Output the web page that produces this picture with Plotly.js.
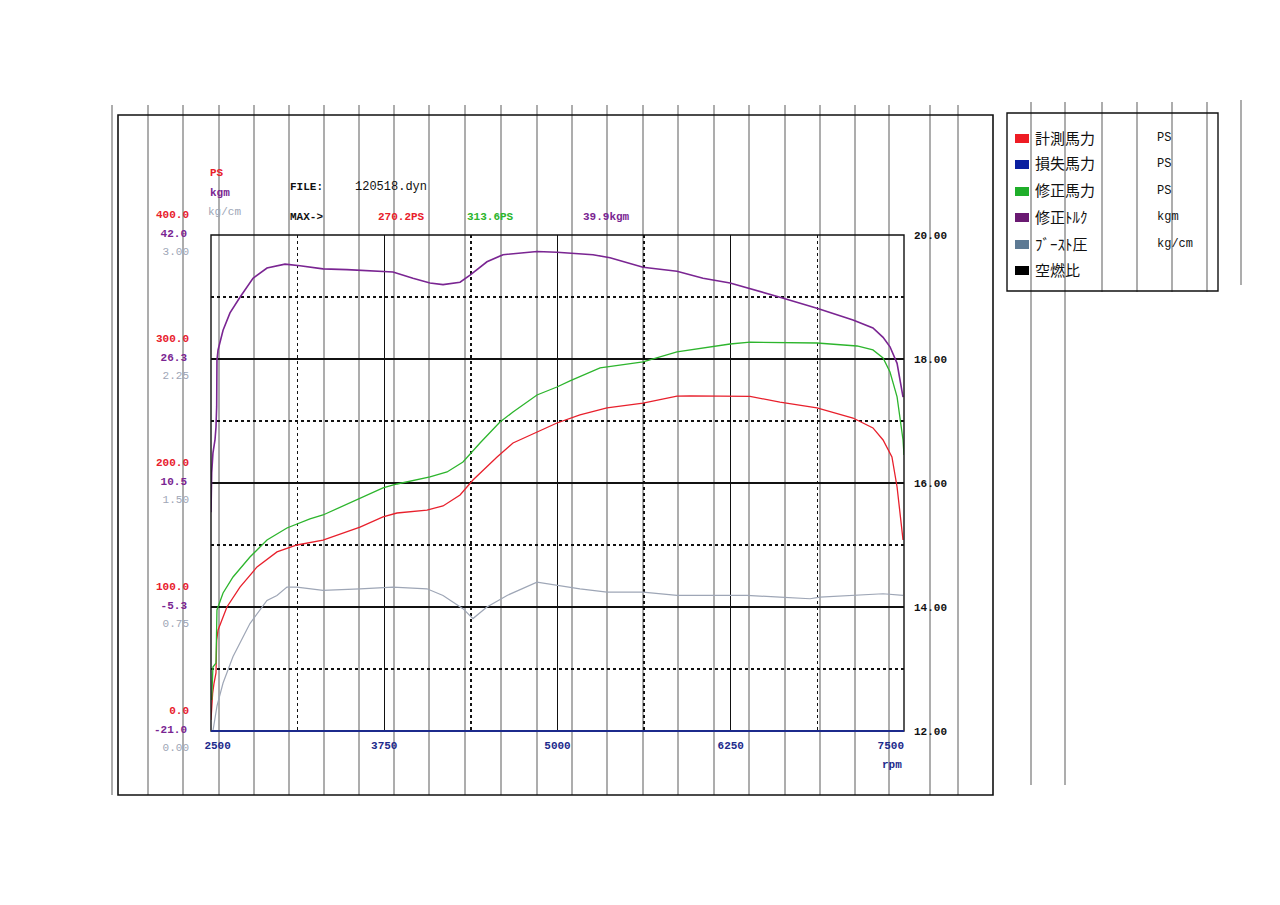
<!DOCTYPE html>
<html><head><meta charset="utf-8">
<script src="https://cdn.plot.ly/plotly-3.0.1.min.js"></script>
<style>html,body{margin:0;padding:0;background:#fff}#chart{width:1280px;height:905px}</style>
</head><body><div id="chart"></div><script>
// ---- data read from the dyno sheet ----
const rpmMeasured = [2500,2512,2522,2536,2541,2551,2615,2709,2832,2976,3120,3308,3575,3741,3842,4058,4174,4297,4390,4564,4679,4852,4996,5162,5357,5617,5862,5956,6245,6389,6605,6872,7132,7276,7349,7413,7450,7493];
const measuredPs  = [8.9,30.6,38.7,46.8,73.4,81.5,100.0,116.1,132.3,144.4,150.0,154.0,164.5,172.6,175.8,178.2,181.5,190.3,202.4,221.0,232.3,241.1,248.4,254.9,260.5,264.5,270.0,270.2,270.1,269.8,265.3,260.5,252.4,244.4,234.7,221.0,196.8,154.0];

const rpmCorrected = [2505,2514,2536,2541,2543,2587,2659,2781,2904,3048,3214,3308,3575,3741,3842,4080,4203,4318,4441,4585,4679,4852,4996,5090,5307,5617,5862,6122,6245,6389,6605,6872,7161,7276,7349,7399,7450,7493,7500];
const correctedPs  = [25.0,51.6,54.8,73.4,97.6,111.3,124.2,140.3,154.0,163.7,171.0,174.2,187.9,196.0,199.2,204.9,208.9,216.9,232.3,249.2,257.3,271.0,277.4,282.3,292.8,297.6,305.7,309.7,312.1,313.6,313.4,312.9,310.5,307.3,300.8,289.5,269.4,234.7,222.6];

const rpmTorque = [2500,2505,2514,2529,2536,2541,2543,2551,2587,2637,2709,2803,2904,3034,3142,3308,3481,3698,3813,3957,4080,4174,4297,4369,4491,4607,4780,4852,4996,5162,5256,5379,5617,5862,6050,6245,6367,6605,6872,7132,7276,7349,7399,7450,7493];
const torqueKgm = [6.8,11.8,14.3,16.0,17.6,20.2,26.1,27.4,29.9,32.1,34.1,36.5,37.8,38.3,38.1,37.7,37.6,37.4,37.3,36.5,35.9,35.7,36.0,36.9,38.6,39.5,39.8,39.9,39.8,39.6,39.5,39.1,37.9,37.4,36.5,35.9,35.3,34.1,32.7,31.2,30.2,29.0,27.8,25.7,21.4];

const rpmBoost = [2514,2529,2543,2587,2659,2781,2904,2976,3048,3120,3308,3575,3813,4058,4174,4318,4390,4491,4636,4852,4996,5162,5357,5617,5862,6122,6367,6605,6822,6894,7132,7349,7493];
const boostKg  = [0.00,0.07,0.15,0.29,0.45,0.65,0.79,0.82,0.87,0.87,0.85,0.86,0.87,0.86,0.82,0.74,0.68,0.75,0.82,0.90,0.88,0.86,0.84,0.84,0.82,0.82,0.82,0.81,0.80,0.81,0.82,0.83,0.82];

const xTicks = [2500,3750,5000,6250,7500];
const xTickText = ['\u00a0\u00a02500','3750','5000','6250','7500\u00a0\u00a0\u00a0\u00a0'];
const kgmTicks = [-21,-5.25,10.5,26.25,42];
const kgmTickText = ['-21.0','-5.3','10.5','26.3','42.0'];
const boostTicks = [0,0.75,1.5,2.25,3];
const legendNames = ['計測馬力','損失馬力','修正馬力','修正ﾄﾙｸ','ﾌﾞｰｽﾄ圧','空燃比'];
const legendUnits = ['PS','PS','PS','kgm','kg/cm',''];
const legendColors = ['#ee1c24','#0a1fa0','#1fae2a','#6a1a72','#5d7a94','#000000'];

// ---- styling ----
const RED='#e8202c', GREEN='#2db52d', PURPLE='#7a2592', GRAY='#9ea6b6', BLUE='#1c2a8c';
const MONO='Liberation Mono, DejaVu Sans Mono, monospace';
const JP='Noto Sans CJK JP, sans-serif';

// plot area in pixels: x 211..904, y 235..731
const L=211, R=904, T=235, B=731;
const px = x => (x-L)/(R-L);
const py = y => (B-y)/(B-T);

const traces = [
  {x:rpmBoost, y:boostKg, yaxis:'y3', mode:'lines', line:{color:GRAY,width:1.2}, showlegend:false, hoverinfo:'skip'},
  {x:rpmMeasured, y:measuredPs, yaxis:'y', mode:'lines', line:{color:RED,width:1.3}, showlegend:false},
  {x:rpmCorrected, y:correctedPs, yaxis:'y', mode:'lines', line:{color:GREEN,width:1.3}, showlegend:false},
  {x:rpmTorque, y:torqueKgm, yaxis:'y2', mode:'lines', line:{color:PURPLE,width:1.6}, showlegend:false},
  {x:[], y:[], yaxis:'y4', showlegend:false}
];

const shapes = [];
// scan lines of the paper sheet
const scanX = [112,148,183,219,254,289,324,359,394,429,465,501,537,572,607,643,678,714,749,785,820,855,889,930,958];
scanX.forEach(x=>shapes.push({type:'line',xref:'paper',yref:'paper',x0:px(x),x1:px(x),y0:py(105),y1:py(795),line:{color:'#6a6a6a',width:1.1},layer:'below'}));
[1031,1065].forEach(x=>shapes.push({type:'line',xref:'paper',yref:'paper',x0:px(x),x1:px(x),y0:py(102),y1:py(785),line:{color:'#6a6a6a',width:1.1},layer:'below'}));
[1102,1137,1172,1207].forEach(x=>shapes.push({type:'line',xref:'paper',yref:'paper',x0:px(x),x1:px(x),y0:py(102),y1:py(292),line:{color:'#6a6a6a',width:1.1},layer:'below'}));
shapes.push({type:'line',xref:'paper',yref:'paper',x0:px(1241),x1:px(1241),y0:py(100),y1:py(285),line:{color:'#6a6a6a',width:1.1},layer:'below'});
// outer frame
shapes.push({type:'rect',xref:'paper',yref:'paper',x0:px(118),x1:px(993),y0:py(795),y1:py(115),line:{color:'#111',width:1.6}});
// legend box
shapes.push({type:'rect',xref:'paper',yref:'paper',x0:px(1007),x1:px(1218),y0:py(291),y1:py(113),line:{color:'#111',width:1.4}});
// plot border (black) and blue baseline
shapes.push({type:'rect',xref:'paper',yref:'paper',x0:0,x1:1,y0:0,y1:1,line:{color:'#111',width:1.4}});
shapes.push({type:'line',xref:'paper',yref:'paper',x0:0,x1:1,y0:0,y1:0,line:{color:BLUE,width:1.8}});

const annotations = [];
const ann = (text,x,y,color,opts={}) => annotations.push(Object.assign({text,xref:'paper',yref:'paper',x:px(x),y:py(y),xanchor:'left',yanchor:'middle',showarrow:false,font:{family:MONO,size:11,color,weight:'bold'}},opts));
ann('PS',208,173,RED);
ann('kgm',208,193,PURPLE);
ann('kg/cm',206,212,GRAY,{font:{family:MONO,size:11,color:GRAY}});
ann('FILE:',288,187,'#111');
ann('120518.dyn',353,187,'#111',{font:{family:MONO,size:12,color:'#111'}});
ann('MAX->',288,217,'#111');
ann(Math.max(...measuredPs).toFixed(1)+'PS',376,217,RED);
ann(Math.max(...correctedPs).toFixed(1)+'PS',465,217,GREEN);
ann(Math.max(...torqueKgm).toFixed(1)+'kgm',581,217,PURPLE);
ann('rpm',880,765,BLUE);

const rowY = [138,164,191,217,244,270];
legendNames.forEach((n,i)=>{
  shapes.push({type:'rect',xref:'paper',yref:'paper',x0:px(1015),x1:px(1029),y0:py(rowY[i]+5),y1:py(rowY[i]-4),fillcolor:legendColors[i],line:{width:0}});
  ann(n,1033,rowY[i]-1,'#111',{font:{family:JP,size:15,color:'#111'}});
  if (legendUnits[i]) ann(legendUnits[i],1155,rowY[i],'#111',{font:{family:MONO,size:12,color:'#111'}});
});

const layout = {
  width:1280, height:905,
  margin:{l:L, r:1280-R, t:T, b:905-B, pad:0},
  paper_bgcolor:'#fff', plot_bgcolor:'rgba(0,0,0,0)',
  showlegend:false,
  xaxis:{range:[2500,7500], tickmode:'array', tickvals:xTicks, ticktext:xTickText,
    showgrid:true, gridcolor:'#111', gridwidth:1.3,
    minor:{dtick:625, tick0:2500, showgrid:true, gridcolor:'#111', gridwidth:1.4, griddash:'3px,3px'},
    showline:false, zeroline:false, ticks:'', ticklabelstandoff:6,
    tickfont:{family:MONO,size:11,color:BLUE,weight:'bold'}},
  yaxis:{range:[0,400], dtick:100, tick0:0, tickformat:'.1f', showgrid:true, gridcolor:'#111', gridwidth:1.2,
    minor:{dtick:50, tick0:0, showgrid:true, gridcolor:'#111', gridwidth:1.4, griddash:'3px,3px'},
    zeroline:false, showline:false, ticks:'', ticklabelstandoff:21, ticklabelshift:-21,
    tickfont:{family:MONO,size:11,color:RED,weight:'bold'}},
  yaxis2:{overlaying:'y', side:'left', anchor:'x', range:[-21,42], tickmode:'array', tickvals:kgmTicks, ticktext:kgmTickText,
    showgrid:false, zeroline:false, showline:false, ticks:'', ticklabelstandoff:23, ticklabelshift:-2,
    tickfont:{family:MONO,size:11,color:PURPLE,weight:'bold'}},
  yaxis3:{overlaying:'y', side:'left', anchor:'x', range:[0,3], tickmode:'array', tickvals:boostTicks, ticktext:boostTicks.map(v=>v.toFixed(2)),
    showgrid:false, zeroline:false, showline:false, ticks:'', ticklabelstandoff:21, ticklabelshift:16,
    tickfont:{family:MONO,size:11,color:GRAY}},
  yaxis4:{overlaying:'y', side:'right', anchor:'x', range:[12,20], dtick:2, tick0:12, tickformat:'.2f',
    showgrid:false, zeroline:false, showline:false, ticks:'', ticklabelstandoff:9,
    tickfont:{family:MONO,size:11,color:'#111',weight:'bold'}},
  shapes, annotations
};

Plotly.newPlot('chart', traces, layout, {staticPlot:true, displayModeBar:false});
</script></body></html>
